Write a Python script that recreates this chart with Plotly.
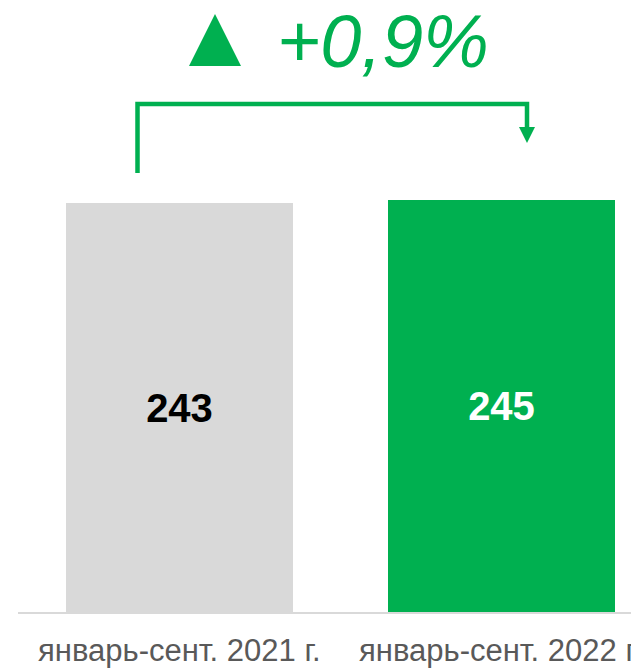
""" Comparison bar chart: January-September 2021 vs 2022 """

# %% Imports
import plotly.graph_objs as go

# %% Data
periods = ["январь-сент. 2021 г.", "январь-сент. 2022 г."]
values = [243, 245]
change_label = "+0,9%"

# %% Parameter
green = "#00B050"
grey = "#D9D9D9"
font = "Arial, Liberation Sans, sans-serif"

off = 8                 # default body margin of the html page
W, H = 639 - off, 671 - off
mL, mB, mT = 18 - off, 59, 0
unit_px = 322           # pixels per category step
val_px = 1.683          # pixels per value unit
x0 = -0.5
x1 = x0 + (W - mL) / unit_px
y_top = (H - mB - mT) / val_px


# helpers: screen pixel -> data coordinates
def px_x(p):
    return x0 + (p - off - mL) / unit_px


def px_y(p):
    return (H - mB - (p - off)) / val_px


# %% Figure
fig = go.Figure()
fig.add_trace(go.Bar(x=[0, 1], y=values,
                     width=0.705,
                     marker={'color': [grey, green], 'line': {'width': 0}},
                     text=[str(v) for v in values],
                     textposition="inside",
                     insidetextanchor="middle",
                     textfont={'family': font, 'size': 40,
                               'color': ["black", "white"],
                               'weight': "bold"},
                     hoverinfo="skip"))

# bracket with arrow
bx0, bx1 = px_x(137.5), px_x(527)
fig.add_shape(type="path",
              path="M {a},{b} L {a},{c} L {d},{c} L {d},{e}".format(
                  a=bx0, b=px_y(173), c=px_y(104), d=bx1, e=px_y(130)),
              line={'color': green, 'width': 4.5})
fig.add_shape(type="path",
              path="M {a},{y} L {b},{y} L {c},{t} Z".format(
                  a=px_x(519), b=px_x(535), c=bx1, y=px_y(127), t=px_y(143)),
              fillcolor=green, line={'width': 0})

# up triangle
fig.add_shape(type="path",
              path="M {a},{y} L {b},{y} L {c},{t} Z".format(
                  a=px_x(189), b=px_x(241), c=px_x(215), y=px_y(66), t=px_y(14)),
              fillcolor=green, line={'width': 0})

fig.add_annotation(x=px_x(383), y=px_y(41), text=change_label,
                   showarrow=False, xanchor="center", yanchor="middle",
                   font={'family': font, 'size': 74, 'color': green,
                         'style': "italic"})

# category labels as annotations: the right one is pulled in a little
# so it stays inside the window (in the original it runs off the edge)
label_font = {'family': font, 'size': 31, 'color': "#595959"}
fig.add_annotation(x=0, y=0, yref="paper", yshift=-38, text=periods[0],
                   showarrow=False, xanchor="center", yanchor="middle",
                   font=label_font)
fig.add_annotation(x=px_x(357), y=0, yref="paper", yshift=-38,
                   text=periods[1], showarrow=False,
                   xanchor="left", yanchor="middle", font=label_font)

fig.update_xaxes(range=[x0, x1], tickvals=[0, 1], showticklabels=False,
                 showgrid=False, zeroline=False,
                 showline=True, linecolor=grey, linewidth=1.5, ticks="")
fig.update_yaxes(range=[0, y_top], visible=False)
fig.update_layout(width=W, height=H,
                  margin={'l': mL, 'r': 0, 't': mT, 'b': mB},
                  plot_bgcolor="white", paper_bgcolor="white",
                  showlegend=False, bargap=0)

fig.write_html("out.html")
